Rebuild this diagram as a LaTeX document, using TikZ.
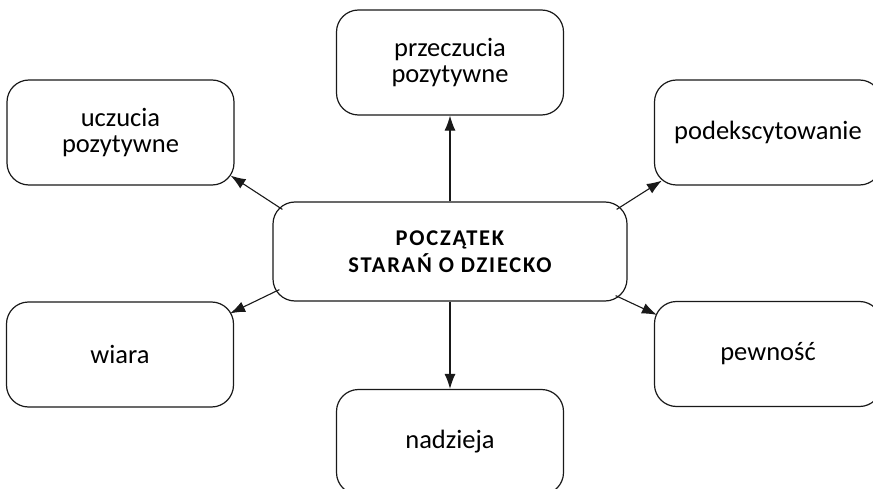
\documentclass[tikz,border=0pt]{standalone}
\usepackage{fontspec}
\setmainfont{Carlito}
\newfontfamily\headfont{Carlito}[LetterSpace=8.0]
\usepackage{tikz}
\usetikzlibrary{positioning, arrows.meta}
\tikzset{
    boxnode/.style={
        rectangle,
        rounded corners=22pt,
        draw=black!90, % border
        line width=1.2pt,
        minimum width=227pt,
        minimum height=105pt,
        align=center,
        inner sep=0,
        font=\fontsize{26.5}{26}\selectfont
    },
    mainnode/.style={
        boxnode,
        minimum width=354pt,
        minimum height=99pt,
        font=\headfont\bfseries\fontsize{22.5}{27}\selectfont
    },
    arr/.style={
        draw=black!90,
        line width=1.1pt,
        -{Latex[length=15pt,width=11pt]}
    }
}
\begin{document}
\begin{tikzpicture}[x=1pt, y=-1pt]
    \useasboundingbox (0,0) rectangle (873,489);
    % centre
    \node[mainnode] (c) at (450,251.5) {POCZĄTEK\\STARAŃ O DZIECKO};
    % outer boxes
    \node[boxnode] (t)  at (450,62.5)  {przeczucia\\pozytywne};
    \node[boxnode] (u)  at (120.5,132.5) {uczucia\\pozytywne};
    \node[boxnode] (p)  at (768,132.5) {podekscytowanie};
    \node[boxnode] (w)  at (120,354.5) {wiara};
    \node[boxnode] (pe) at (768,354)   {pewność};
    \node[boxnode] (n)  at (450,442)   {nadzieja};
    % arrows
    \draw[arr] (c.north) -- (t.south);
    \draw[arr] (c.south) -- (n.north);
    \draw[arr] ([xshift=10pt,yshift=-8pt]c.north west) -- ([xshift=-4pt,yshift=10pt]u.south east);
    \draw[arr] ([xshift=-11pt,yshift=-8pt]c.north east) -- ([xshift=8pt,yshift=5pt]p.south west);
    \draw[arr] ([xshift=7pt,yshift=12pt]c.south west) -- ([xshift=-4pt,yshift=-12pt]w.north east);
    \draw[arr] ([xshift=-12pt,yshift=6pt]c.south east) -- ([xshift=3pt,yshift=-14pt]pe.north west);
\end{tikzpicture}
\end{document}
